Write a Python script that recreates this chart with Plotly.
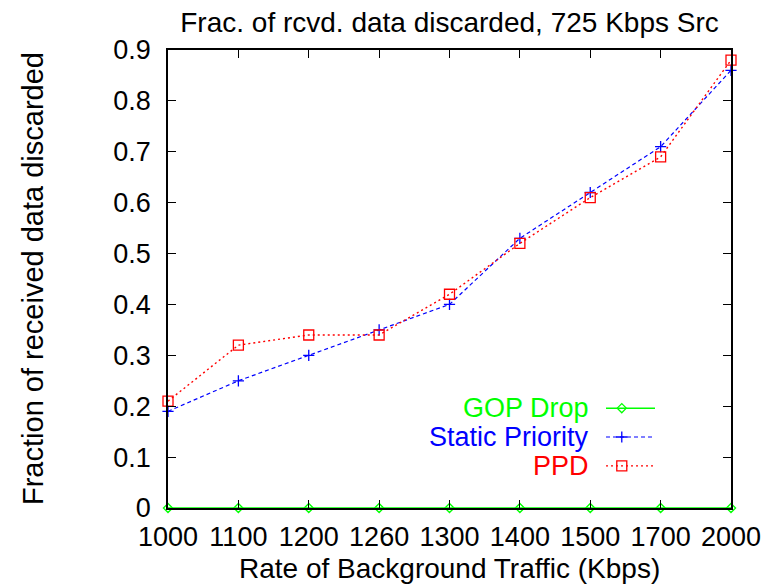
import plotly.graph_objects as go

categories = ["1000", "1100", "1200", "1260", "1300", "1400", "1500", "1700", "2000"]
gop_drop = [0, 0, 0, 0, 0, 0, 0, 0, 0]
static_priority = [0.19, 0.25, 0.30, 0.35, 0.40, 0.53, 0.62, 0.71, 0.86]
ppd = [0.21, 0.32, 0.34, 0.34, 0.42, 0.52, 0.61, 0.69, 0.88]
y_ticks = [0, 0.1, 0.2, 0.3, 0.4, 0.5, 0.6, 0.7, 0.8, 0.9]
y_tick_text = ["0", "0.1", "0.2", "0.3", "0.4", "0.5", "0.6", "0.7", "0.8", "0.9"]

FONT = "Liberation Sans, Arial, Helvetica, sans-serif"
GREEN = "#00ff00"
BLUE = "#0000ff"
RED = "#ff0000"

# page has an 8px body margin; the figure is sized/margined to compensate
W, H = 762, 579
ML, MR, MT, MB = 160, 39, 42, 79
PW, PH = W - ML - MR, H - MT - MB

series = [
    ("GOP Drop", gop_drop, GREEN, "solid", "diamond-open", 7, 1.5),
    ("Static Priority", static_priority, BLUE, "4px,3px", "cross-thin-open", 8, 1.2),
    ("PPD", ppd, RED, "2px,3px", "square-open", 10, 1.4),
]

fig = go.Figure()
for name, vals, color, dash, sym, size, width in series:
    fig.add_trace(go.Scatter(
        x=list(range(len(categories))), y=vals, mode="lines+markers", name=name,
        line=dict(color=color, dash=dash, width=width),
        marker=dict(symbol=sym, size=size, color=color, line=dict(color=color, width=1.3)),
        cliponaxis=False, showlegend=False,
    ))

# manual legend (text right, sample to its right), gnuplot style
legend_y = [0.218, 0.155, 0.092]
for (name, vals, color, dash, sym, size, width), ly in zip(series, legend_y):
    fig.add_trace(go.Scatter(
        x=[0.778, 0.865], y=[ly, ly], xaxis="x2", yaxis="y2", mode="lines",
        line=dict(color=color, dash=dash, width=width), showlegend=False, hoverinfo="skip",
    ))
    fig.add_trace(go.Scatter(
        x=[0.806], y=[ly], xaxis="x2", yaxis="y2", mode="markers",
        marker=dict(symbol=sym, size=size, color=color, line=dict(color=color, width=1.3)),
        showlegend=False, hoverinfo="skip", cliponaxis=False,
    ))
    fig.add_annotation(
        x=0.751, y=ly, xref="paper", yref="paper", text=name, showarrow=False,
        xanchor="right", yanchor="middle", font=dict(family=FONT, size=27, color=color),
    )

axis_common = dict(
    showgrid=False, zeroline=False, showline=True, linecolor="black", linewidth=1.5,
    mirror="ticks", ticks="inside", ticklen=8, tickwidth=1.2, tickcolor="black",
    tickfont=dict(family=FONT, size=27, color="black"), automargin=False,
)

# axis titles as annotations for precise placement
fig.add_annotation(
    x=0.5, y=-60 / PH, xref="paper", yref="paper", yanchor="middle", xanchor="center",
    text="Rate of Background Traffic (Kbps)", showarrow=False,
    font=dict(family=FONT, size=28, color="black"),
)
fig.add_annotation(
    x=-(168 - 33) / PW, y=0.5, xref="paper", yref="paper", xanchor="center", yanchor="middle",
    text="Fraction of received data discarded", textangle=-90, showarrow=False,
    font=dict(family=FONT, size=29, color="black"),
)

fig.update_layout(
    width=W, height=H,
    margin=dict(l=ML, r=MR, t=MT, b=MB, autoexpand=False),
    plot_bgcolor="white", paper_bgcolor="white",
    title=dict(text="Frac. of rcvd. data discarded, 725 Kbps Src", x=(ML + PW / 2) / W,
               xanchor="center", y=1 - 14 / H, yanchor="middle",
               font=dict(family=FONT, size=28, color="black")),
    xaxis=dict(**axis_common, range=[0, len(categories) - 1],
               tickmode="array", tickvals=list(range(len(categories))), ticktext=categories,
               ticklabelstandoff=4),
    yaxis=dict(**axis_common, range=[0, 0.9], tickmode="array", tickvals=y_ticks,
               ticktext=y_tick_text, ticklabelstandoff=10),
    xaxis2=dict(overlaying="x", range=[0, 1], visible=False),
    yaxis2=dict(overlaying="y", range=[0, 1], visible=False),
)

fig.write_html("out.html")
